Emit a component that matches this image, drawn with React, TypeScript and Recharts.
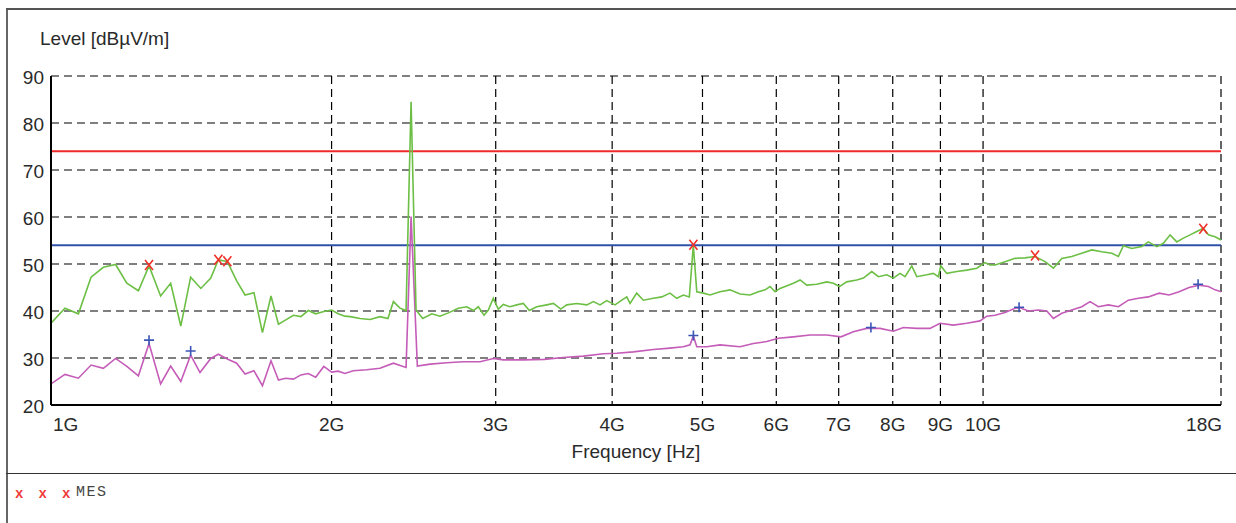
import React from "react";
import {
  ComposedChart,
  Line,
  Scatter,
  XAxis,
  YAxis,
  CartesianGrid,
  ReferenceLine,
} from "recharts";

/* ---------- axes ---------- */
const freqTicks = [1, 2, 3, 4, 5, 6, 7, 8, 9, 10, 18]; // GHz
const levelTicks = [20, 30, 40, 50, 60, 70, 80, 90];

/* ---------- limit lines (dBuV/m) ---------- */
const peakLimit = 74;
const avgLimit = 54;

/* ---------- peak trace (green) ---------- */
const peakFreq = [
  1.0, 1.035, 1.07, 1.104, 1.138, 1.173, 1.206, 1.241, 1.274, 1.311, 1.344,
  1.378, 1.412, 1.448, 1.484, 1.512, 1.546, 1.582, 1.615, 1.651, 1.686, 1.722,
  1.754, 1.786, 1.82, 1.854, 1.888, 1.923, 1.962, 2.0, 2.033, 2.067, 2.094,
  2.146, 2.2, 2.254, 2.299, 2.33, 2.368, 2.404, 2.434, 2.464, 2.505, 2.562,
  2.614, 2.669, 2.735, 2.793, 2.839, 2.874, 2.915, 2.946, 2.982, 3.019, 3.057,
  3.108, 3.16, 3.212, 3.26, 3.32, 3.403, 3.46, 3.523, 3.575, 3.665, 3.757,
  3.819, 3.882, 3.947, 4.029, 4.096, 4.147, 4.181, 4.25, 4.32, 4.429, 4.521,
  4.614, 4.692, 4.769, 4.84, 4.888, 4.93, 5.011, 5.094, 5.222, 5.352, 5.486,
  5.623, 5.74, 5.836, 5.908, 5.982, 6.056, 6.181, 6.258, 6.363, 6.469, 6.631,
  6.797, 6.909, 7.012, 7.141, 7.319, 7.44, 7.596, 7.721, 7.883, 8.012, 8.146,
  8.247, 8.385, 8.489, 8.701, 8.844, 8.954, 9.008, 9.142, 9.371, 9.605, 9.845,
  10.05, 10.174, 10.301, 10.559, 10.823, 11.093, 11.371, 11.655, 11.897,
  12.146, 12.45, 12.761, 13.081, 13.408, 13.743, 13.969, 14.143, 14.44,
  14.801, 15.044, 15.36, 15.612, 15.873, 16.137, 16.403, 16.676, 16.955,
  17.233, 17.448, 17.739, 18.0,
];
const peakLevel = [
  37.4, 40.6, 39.4, 47.2, 49.3, 49.9, 45.9, 44.3, 49.6, 43.2, 45.9, 36.8,
  47.2, 44.8, 47.0, 50.9, 50.5, 46.4, 43.4, 43.9, 35.4, 43.2, 37.2, 38.1,
  39.1, 38.8, 40.1, 39.4, 39.9, 40.2, 39.4, 38.9, 38.8, 38.4, 38.2, 38.8,
  38.4, 42.0, 40.6, 40.1, 84.5, 40.2, 38.4, 39.4, 38.9, 39.6, 40.6, 40.9,
  40.1, 40.9, 39.1, 40.2, 42.7, 40.4, 41.4, 40.9, 41.3, 41.6, 40.1, 40.9,
  41.3, 41.6, 40.4, 41.3, 41.6, 41.3, 42.0, 41.3, 42.2, 41.3, 42.3, 43.0,
  41.6, 43.8, 42.3, 42.7, 43.0, 43.8, 42.7, 43.4, 43.0, 54.0, 44.1, 43.8,
  43.4, 44.1, 44.5, 43.6, 43.4, 44.1, 44.5, 45.2, 44.1, 44.8, 45.5, 45.9,
  46.6, 45.5, 45.7, 46.2, 45.9, 45.2, 46.2, 46.6, 47.0, 48.4, 47.3, 47.7,
  47.0, 48.0, 47.3, 49.6, 47.3, 47.7, 48.0, 47.3, 49.6, 48.0, 48.4, 48.7,
  49.1, 50.3, 49.8, 49.8, 50.5, 51.2, 51.3, 51.6, 50.5, 49.1, 51.2, 51.6,
  52.3, 53.0, 52.6, 52.3, 51.6, 53.9, 53.3, 53.7, 54.7, 53.7, 54.4, 56.2,
  54.7, 55.5, 56.2, 56.9, 57.6, 56.2, 55.8, 55.1,
];

/* ---------- average trace (magenta) ---------- */
const avgFreq = [
  1.0, 1.035, 1.07, 1.104, 1.138, 1.173, 1.206, 1.241, 1.274, 1.311, 1.344,
  1.378, 1.412, 1.445, 1.484, 1.512, 1.546, 1.582, 1.615, 1.651, 1.686, 1.722,
  1.754, 1.786, 1.82, 1.854, 1.888, 1.923, 1.962, 2.0, 2.033, 2.067, 2.11,
  2.181, 2.254, 2.33, 2.378, 2.404, 2.434, 2.472, 2.551, 2.658, 2.769, 2.886,
  2.982, 3.057, 3.212, 3.383, 3.545, 3.725, 3.914, 4.046, 4.215, 4.429, 4.614,
  4.769, 4.849, 4.888, 4.93, 5.053, 5.222, 5.486, 5.669, 5.86, 6.031, 6.258,
  6.522, 6.797, 7.041, 7.258, 7.503, 7.753, 8.012, 8.213, 8.489, 8.771, 8.992,
  9.292, 9.605, 9.926, 10.092, 10.301, 10.559, 10.823, 10.957, 11.184, 11.464,
  11.705, 11.897, 12.146, 12.45, 12.761, 13.026, 13.296, 13.628, 13.969,
  14.319, 14.677, 15.044, 15.447, 15.834, 16.23, 16.635, 17.052, 17.448,
  17.739, 18.0,
];
const avgLevel = [
  24.5, 26.5, 25.7, 28.5, 27.8, 29.9, 28.2, 26.2, 33.1, 24.5, 28.3, 25.0,
  30.6, 26.9, 29.9, 30.8, 29.8, 28.9, 26.6, 27.3, 24.1, 29.4, 25.3, 25.7,
  25.5, 26.4, 26.7, 25.9, 28.2, 27.0, 27.2, 26.7, 27.3, 27.5, 27.8, 28.9,
  28.3, 28.0, 60.1, 28.3, 28.7, 29.0, 29.2, 29.2, 29.9, 29.6, 29.6, 29.7,
  30.1, 30.4, 30.9, 31.0, 31.3, 31.8, 32.1, 32.4, 32.8, 34.7, 32.4, 32.4,
  32.8, 32.4, 33.1, 33.5, 34.2, 34.5, 34.9, 34.9, 34.5, 35.6, 36.3, 36.3,
  35.7, 36.5, 36.3, 36.3, 37.4, 37.0, 37.4, 37.9, 38.9, 39.1, 39.7, 40.6,
  40.7, 40.0, 40.2, 40.0, 38.4, 39.5, 40.2, 40.9, 42.0, 40.9, 41.3, 40.9,
  42.3, 42.7, 43.0, 43.8, 43.4, 44.1, 45.0, 45.5, 45.2, 44.5, 44.1,
];

/* ---------- final measurement markers ---------- */
const mesFreq = [1.274, 1.512, 1.546, 4.889, 11.37, 17.23];
const mesLevel = [49.8, 50.9, 50.6, 54.1, 51.8, 57.5];
const avgMarkFreq = [1.274, 1.412, 4.889, 7.58, 10.93, 17.01];
const avgMarkLevel = [33.8, 31.5, 34.8, 36.5, 40.8, 45.7];

const legendMarks = ["x", "x", "x"];
const legendLabel = "MES";

const toPoints = (fs: number[], vs: number[]) =>
  fs.map((f, i) => ({ f, v: vs[i] }));

const peakData = toPoints(peakFreq, peakLevel);
const avgData = toPoints(avgFreq, avgLevel);
const mesData = toPoints(mesFreq, mesLevel);
const avgMarkData = toPoints(avgMarkFreq, avgMarkLevel);

const FONT = '"Liberation Sans", Arial, sans-serif';
const MONO = '"Liberation Mono", "DejaVu Sans Mono", monospace';
const TEXT = "#2a2a2a";

const XMark = (p: any) => (
  <path
    d={`M${p.cx - 4},${p.cy - 5}L${p.cx + 4},${p.cy + 5}M${p.cx + 4},${p.cy - 5}L${p.cx - 4},${p.cy + 5}`}
    stroke="#f0302a"
    strokeWidth={1.6}
  />
);

const PlusMark = (p: any) => (
  <path
    d={`M${p.cx - 5},${p.cy}L${p.cx + 5},${p.cy}M${p.cx},${p.cy - 5}L${p.cx},${p.cy + 5}`}
    stroke="#3a55b5"
    strokeWidth={1.6}
  />
);

const FreqTick = ({ x, y, payload, index }: any) => {
  const last = freqTicks.length - 1;
  const anchor = index === 0 ? "start" : index === last ? "end" : "middle";
  return (
    <text
      x={index === 0 ? x + 2 : index === last ? x + 1 : x}
      y={y + 24}
      textAnchor={anchor}
      fill={TEXT}
      fontSize={19}
      fontFamily={FONT}
    >
      {payload.value}G
    </text>
  );
};

const LevelTick = ({ x, y, payload }: any) => (
  <text
    x={x}
    y={y + 8}
    textAnchor="end"
    fill={TEXT}
    fontSize={19}
    fontFamily={FONT}
  >
    {payload.value}
  </text>
);

export default function App() {
  return (
    <div
      style={{
        position: "fixed",
        left: 0,
        top: 0,
        width: 1236,
        height: 523,
        background: "#fff",
        overflow: "hidden",
        fontFamily: FONT,
      }}
    >
      {/* frame */}
      <div style={{ position: "absolute", left: 6, top: 8, width: 2, height: 515, background: "#666" }} />
      <div style={{ position: "absolute", left: 6, top: 8, width: 1230, height: 2, background: "#555" }} />
      <div style={{ position: "absolute", left: 6, top: 473, width: 1230, height: 1, background: "#333" }} />

      <ComposedChart
        width={1236}
        height={523}
        margin={{ top: 76, right: 15, left: 0, bottom: 58 }}
        style={{ position: "absolute", left: 0, top: 0 }}
      >
        <CartesianGrid stroke="#000" strokeDasharray="8 5" strokeWidth={1.2} />
        <XAxis
          dataKey="f"
          type="number"
          scale="log"
          domain={[1, 18]}
          ticks={freqTicks}
          interval={0}
          allowDataOverflow
          height={60}
          tickSize={0}
          tickLine={false}
          axisLine={{ stroke: "#000", strokeWidth: 2 }}
          tick={<FreqTick />}
        />
        <YAxis
          dataKey="v"
          type="number"
          domain={[20, 90]}
          ticks={levelTicks}
          interval={0}
          allowDataOverflow
          width={51}
          tickSize={0}
          tickMargin={7}
          tickLine={false}
          axisLine={{ stroke: "#000", strokeWidth: 2 }}
          tick={<LevelTick />}
        />
        <ReferenceLine y={peakLimit} stroke="#ee2a2a" strokeWidth={2} />
        <ReferenceLine y={avgLimit} stroke="#2f52a8" strokeWidth={2} />
        <Line
          data={avgData}
          dataKey="v"
          type="linear"
          stroke="#c45cb8"
          strokeWidth={1.6}
          dot={false}
          isAnimationActive={false}
        />
        <Line
          data={peakData}
          dataKey="v"
          type="linear"
          stroke="#6cbf44"
          strokeWidth={1.6}
          dot={false}
          isAnimationActive={false}
        />
        <Scatter data={mesData} dataKey="v" shape={<XMark />} isAnimationActive={false} />
        <Scatter data={avgMarkData} dataKey="v" shape={<PlusMark />} isAnimationActive={false} />
      </ComposedChart>

      <div style={{ position: "absolute", left: 40, top: 29, fontSize: 19, lineHeight: "19px", color: TEXT }}>
        Level [dBµV/m]
      </div>
      <div style={{ position: "absolute", left: 536, width: 200, textAlign: "center", top: 442, fontSize: 19, lineHeight: "19px", color: TEXT }}>
        Frequency [Hz]
      </div>

      {/* legend */}
      {legendMarks.map((m, i) => (
        <div
          key={i}
          style={{
            position: "absolute",
            left: 15 + i * 23.5,
            top: 486,
            fontFamily: MONO,
            fontSize: 14,
            fontWeight: "bold",
            lineHeight: "16px",
            color: "#f03a3a",
          }}
        >
          {m}
        </div>
      ))}
      <div
        style={{
          position: "absolute",
          left: 76,
          top: 485,
          fontFamily: MONO,
          fontSize: 15,
          lineHeight: "16px",
          letterSpacing: 1.5,
          color: "#444",
        }}
      >
        {legendLabel}
      </div>
    </div>
  );
}
